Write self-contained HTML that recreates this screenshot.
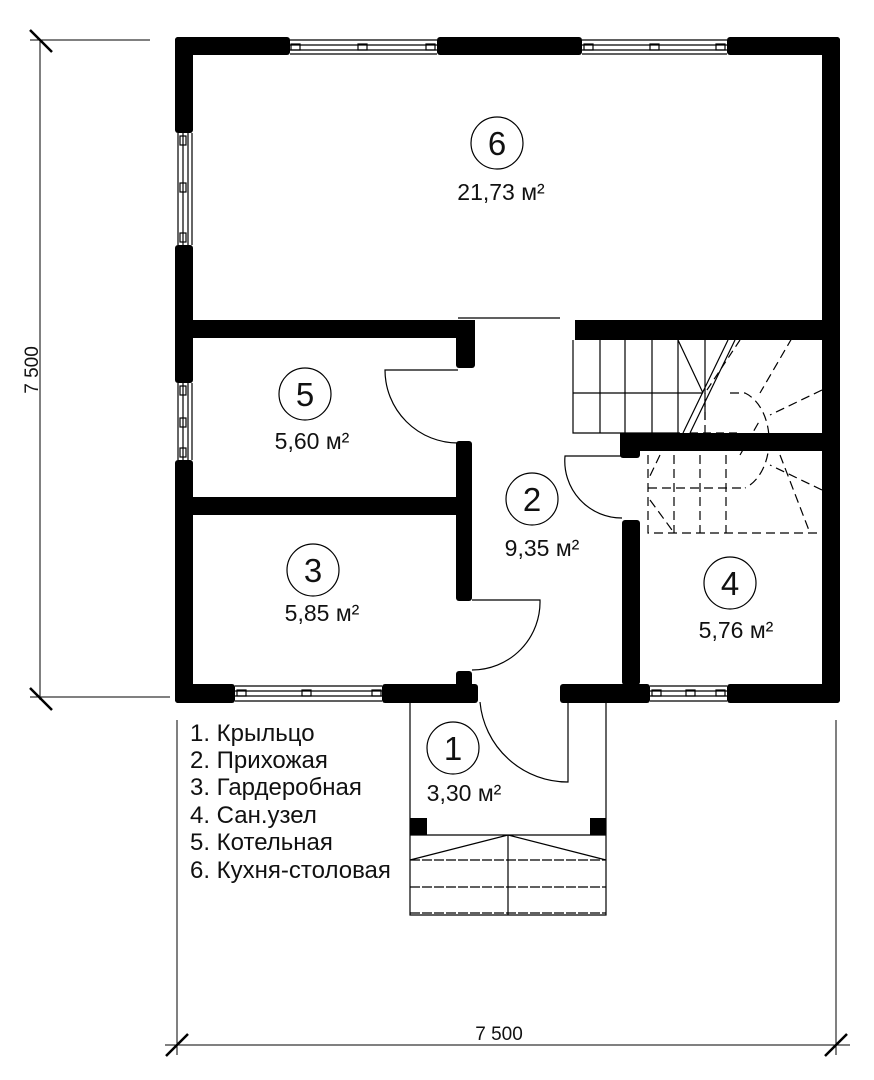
<!DOCTYPE html>
<html><head><meta charset="utf-8"><style>body{margin:0;background:#fff}svg{display:block}text{font-family:"Liberation Sans",sans-serif;fill:#111}</style></head><body>
<svg width="874" height="1080" viewBox="0 0 874 1080" xmlns="http://www.w3.org/2000/svg">
<g fill="#000">
<rect x="175" y="37" width="115" height="18" rx="3"/>
<rect x="437" y="37" width="145" height="18" rx="3"/>
<rect x="727" y="37" width="113" height="18" rx="3"/>
<rect x="175" y="37" width="18" height="96" rx="3"/>
<rect x="175" y="245" width="18" height="138" rx="3"/>
<rect x="175" y="460" width="18" height="243" rx="3"/>
<rect x="822" y="37" width="18" height="666" rx="3"/>
<rect x="175" y="684" width="60" height="19" rx="3"/>
<rect x="382" y="684" width="96" height="19" rx="3"/>
<rect x="560" y="684" width="90" height="19" rx="3"/>
<rect x="727" y="684" width="113" height="19" rx="3"/>
<rect x="175" y="320" width="300" height="18"/>
<rect x="456" y="320" width="19" height="48" rx="3"/>
<rect x="575" y="320" width="250" height="20"/>
<rect x="620" y="433" width="205" height="18"/>
<rect x="620" y="433" width="20" height="25" rx="3"/>
<rect x="456" y="441" width="16" height="160" rx="3"/>
<rect x="175" y="497" width="297" height="18"/>
<rect x="456" y="671" width="16" height="20" rx="3"/>
<rect x="622" y="520" width="18" height="165" rx="3"/>
<rect x="410" y="818" width="17" height="17"/>
<rect x="590" y="818" width="16" height="17"/>
</g>
<g fill="none" stroke="#000" stroke-width="1.2">
<path d="M290 40H437M290 45H437M290 50H437M290 54H437M582 40H727M582 45H727M582 50H727M582 54H727"/>
<path d="M178 133V245M183 133V245M188 133V245M192 133V245M178 383V460M183 383V460M188 383V460M192 383V460"/>
<path d="M235 686H382M235 691H382M235 696H382M235 701H382M650 686H727M650 691H727M650 696H727M650 701H727"/>
<rect x="291" y="44" width="9" height="6"/><rect x="358" y="44" width="9" height="6"/><rect x="426" y="44" width="9" height="6"/>
<rect x="584" y="44" width="9" height="6"/><rect x="650" y="44" width="9" height="6"/><rect x="716" y="44" width="9" height="6"/>
<rect x="180" y="136" width="6" height="9"/><rect x="180" y="183" width="6" height="9"/><rect x="180" y="233" width="6" height="9"/>
<rect x="180" y="386" width="6" height="9"/><rect x="180" y="418" width="6" height="9"/><rect x="180" y="448" width="6" height="9"/>
<rect x="237" y="690" width="9" height="6"/><rect x="302" y="690" width="9" height="6"/><rect x="372" y="690" width="9" height="6"/>
<rect x="652" y="690" width="9" height="6"/><rect x="686" y="690" width="9" height="6"/><rect x="716" y="690" width="9" height="6"/>
<path d="M458 318H560"/>
<path d="M458 370H385A73 73 0 0 0 458 443"/>
<path d="M622 456H565A57 57 0 0 0 622 518"/>
<path d="M472 600H540A68 68 0 0 1 472 670"/>
<path d="M568 702V782A88 88 0 0 1 480 702"/>
<path d="M410 702V915H606V702M410 835H606M508 835V915M410 860L508 835L606 860"/>
<path d="M410 860H606M410 887H606M410 913H606" stroke-dasharray="10 2"/>
<path d="M573 340V433H680M573 340V433M600 340V433M625 340V433M652 340V433M678 340V433M705 340V420M573 393H703M678 340L703 393M728 340L683 433M735 340L690 433"/>
<path d="M690 433H737M705 433V393M740 340L705 393" stroke-dasharray="8 5"/>
<g stroke-dasharray="9 5">
<path d="M648 455V533H822M674 455V533M700 455V533M726 455V533M648 488H745"/>
<path d="M730 393H745A35 50 0 0 1 745 488"/>
<path d="M792 338L760 393M822 390L770 415M822 490L770 465M780 455L810 533M740 455L760 420M660 455L648 480M650 500L672 530"/>
</g>
<path d="M40 40V700M30 40H150M30 697H170M165 1045H850M177 720V1055M836 720V1055" stroke-width="1"/>
<path d="M30 30L52 52M30 688L52 710M166 1056L188 1034M825 1056L847 1034" stroke-width="2.5"/>
<circle cx="497" cy="143" r="26"/><circle cx="305" cy="394" r="26"/><circle cx="532" cy="499" r="26"/>
<circle cx="313" cy="570" r="26"/><circle cx="730" cy="583" r="26"/><circle cx="453" cy="748" r="26"/>
</g>
<g font-size="33" text-anchor="middle">
<text x="497" y="155">6</text><text x="305" y="406">5</text><text x="532" y="511">2</text>
<text x="313" y="582">3</text><text x="730" y="595">4</text><text x="453" y="760">1</text>
</g>
<g font-size="23" text-anchor="middle">
<text x="501" y="200">21,73 м²</text><text x="312" y="449">5,60 м²</text><text x="542" y="556">9,35 м²</text>
<text x="322" y="621">5,85 м²</text><text x="736" y="638">5,76 м²</text><text x="464" y="801">3,30 м²</text>
</g>
<g font-size="19" text-anchor="middle">
<text x="499" y="1040">7 500</text>
<text transform="translate(38 370) rotate(-90)">7 500</text>
</g>
<g font-size="24">
<text x="190" y="741">1. Крыльцо</text><text x="190" y="768">2. Прихожая</text><text x="190" y="795">3. Гардеробная</text>
<text x="190" y="823">4. Сан.узел</text><text x="190" y="850">5. Котельная</text><text x="190" y="878">6. Кухня-столовая</text>
</g>
</svg>
</body></html>
